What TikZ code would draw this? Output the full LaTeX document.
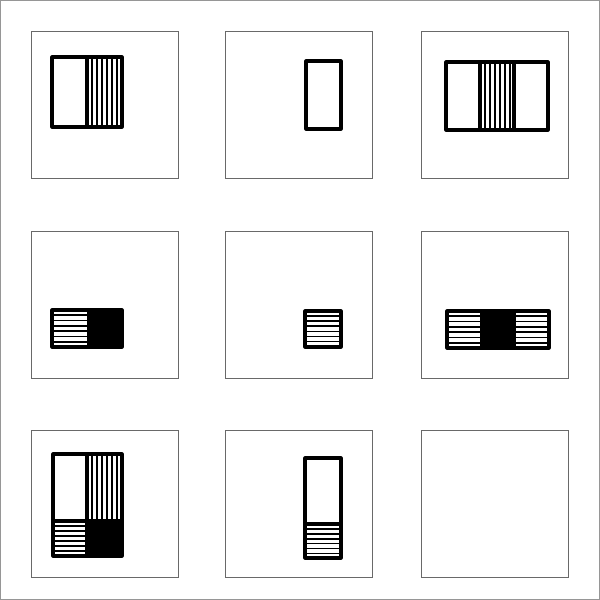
\documentclass[tikz,border=0pt]{standalone}
\definecolor{framegray}{RGB}{150,150,150}
\definecolor{cellgray}{RGB}{105,105,105}

\begin{document}
\begin{tikzpicture}[
            x=0.03cm, y=-0.03cm,
            frame/.style={draw=framegray, line width=0.9pt},
            cell/.style={draw=cellgray, line width=0.8pt},
            outline/.style={draw=black, line width=2.6pt, line join=round},
            stripe/.style={draw=black, line width=1.5pt},
            blackblock/.style={fill=black}
        ]
            \useasboundingbox (0,0) rectangle (600,600);
            \draw[frame] (0.5,0.5) rectangle (599.5,599.5);
            % the nine cells
            \foreach \cx in {31,225,421}
                \foreach \cy in {31,231,430}
                    \draw[cell] (\cx,\cy) rectangle +(147,147);
            % row 1
            \foreach \x in {92,97,...,117} \draw[stripe] (\x,57) -- (\x,127);
            \draw[outline] (52,57) rectangle (122,127);
            \draw[outline] (87,57) -- (87,127);
            \draw[outline] (306,61) rectangle (341,129);
            \foreach \x in {485,490,...,510} \draw[stripe] (\x,62) -- (\x,130);
            \draw[outline] (446,62) rectangle (548,130);
            \draw[outline] (480,62) -- (480,130);
            \draw[outline] (514,62) -- (514,130);
            % row 2
            \foreach \y in {315.3,320.6,...,342} \draw[stripe] (52,\y) -- (87,\y);
            \fill[blackblock] (87,310) rectangle (122,347);
            \draw[outline] (52,310) rectangle (122,347);
            \foreach \y in {316.1,321.2,...,342} \draw[stripe] (305,\y) -- (341,\y);
            \draw[outline] (305,311) rectangle (341,347);
            \foreach \y in {316.3,321.6,...,343} {
                \draw[stripe] (447,\y) -- (480,\y);
                \draw[stripe] (516,\y) -- (549,\y);
            }
            \fill[blackblock] (480,311) rectangle (516,348);
            \draw[outline] (447,311) rectangle (549,348);
            % row 3
            \foreach \x in {92,97,...,117} \draw[stripe] (\x,454) -- (\x,521);
            \foreach \y in {526,531,...,551} \draw[stripe] (53,\y) -- (87,\y);
            \fill[blackblock] (87,521) rectangle (122,556);
            \draw[outline] (53,454) rectangle (122,556);
            \draw[outline] (87,454) -- (87,556);
            \draw[outline] (53,521) -- (122,521);
            \foreach \y in {528.9,533.8,...,554} \draw[stripe] (305,\y) -- (341,\y);
            \draw[outline] (305,458) rectangle (341,558);
            \draw[outline] (305,524) -- (341,524);
        \end{tikzpicture}
\end{document}
